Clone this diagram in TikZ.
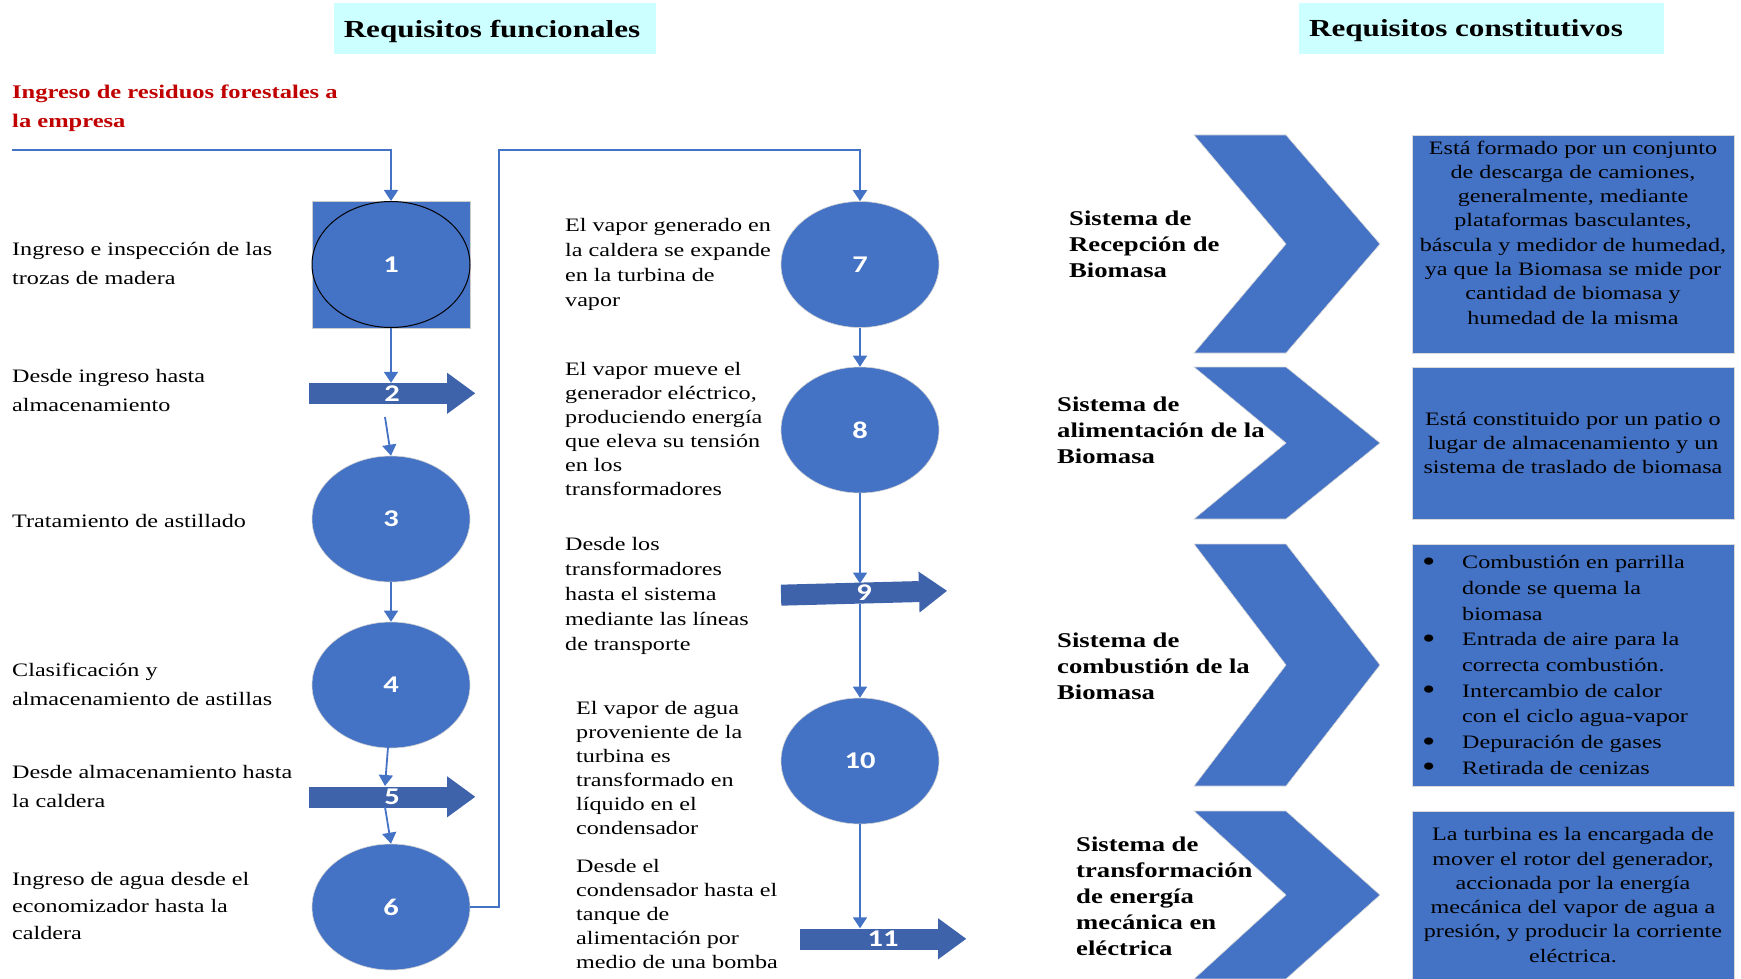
\documentclass[tikz,border=0pt]{standalone}
\usepackage{fontspec}
\setmainfont{Liberation Serif}[FakeStretch=1.27]
\newfontfamily\numfont{Carlito}[FakeStretch=1.27]
\usetikzlibrary{arrows.meta,shapes.geometric}
\definecolor{ofblue}{HTML}{4472C4}
\definecolor{arrblue}{HTML}{3F63AA}
\definecolor{hdrcyan}{HTML}{CCFFFF}
\definecolor{redtxt}{HTML}{C00000}
\newcommand\bigbul{\makebox[38pt][l]{\hspace*{-2pt}\smash{\fontsize{30}{20}\selectfont\raisebox{-2.5pt}{\textbullet}}}}
\begin{document}
\begin{tikzpicture}[x=1pt,y=-1pt,
  circ/.style={ellipse, fill=ofblue, draw=gray!35, line width=0.6pt, minimum width=158pt, minimum height=126pt, inner sep=0pt, text=white, font=\numfont\bfseries\fontsize{24}{24}\selectfont},
  arrbody/.style={rectangle, fill=arrblue, inner sep=0pt, minimum width=138pt, minimum height=21pt},
  arrhead/.style={fill=arrblue},
  arrnum/.style={inner sep=0pt, text=white, font=\numfont\bfseries\fontsize{24}{24}\selectfont},
  conn/.style={draw=ofblue, line width=1.8pt, -{Triangle[width=14pt,length=11pt]}},
  lt/.style={anchor=west, align=left, inner sep=0pt, font=\fontsize{19}{29}\selectfont},
  mt/.style={anchor=west, align=left, inner sep=0pt, font=\fontsize{19}{24}\selectfont},
  hdr/.style={fill=hdrcyan, minimum width=322pt, minimum height=51pt, inner sep=0pt},
  hdrtxt/.style={inner sep=0pt, font=\bfseries\fontsize{24.5}{24.5}\selectfont},
  lab/.style={anchor=west, align=left, inner sep=0pt, font=\bfseries\fontsize{21}{26}\selectfont},
  chev/.style={fill=ofblue, draw=gray!30, line width=0.6pt},
  infobox/.style={rectangle, fill=ofblue, draw=gray!30, line width=0.8pt, minimum width=322pt, inner sep=0pt},
  boxtxt/.style={align=center, inner sep=0pt, font=\fontsize{19}{24.3}\selectfont},
]
\useasboundingbox (0,0) rectangle (1741,979);

% headers
\node[hdr] (h1) at (495,28.5) {};
\node[hdrtxt] (h1t) at (492,31) {Requisitos funcionales};
\node[hdr, minimum width=365pt] (h2) at (1481.5,28.5) {};
\node[hdrtxt] (h2t) at (1466,31) {Requisitos constitutivos};

% red title
\node[lt, text=redtxt, font=\bfseries\fontsize{19.3}{29}\selectfont] (title) at (12,108.5) {Ingreso de residuos forestales a\\la empresa};

% left column nodes
\node[rectangle, fill=ofblue, draw=gray!40, line width=0.8pt, minimum width=158pt, minimum height=127pt, inner sep=0pt] (sq1) at (391,264.5) {};
\node[circ, draw=black, line width=1pt] (c1) at (391,264.5) {1};
\node[arrbody] (a2) at (378,393.5) {};
\fill[arrhead] (a2.north east) ++(0,-10) -- ++(28,20.5) -- ++(-28,20.5) -- cycle;
\node[arrnum] at (392,393.5) {2};
\node[circ] (c3) at (391,519) {3};
\node[circ] (c4) at (391,685) {4};
\node[arrbody] (a5) at (378,797) {};
\fill[arrhead] (a5.north east) ++(0,-10) -- ++(28,20.5) -- ++(-28,20.5) -- cycle;
\node[arrnum] at (392,797) {5};
\node[circ] (c6) at (391,907) {6};

% middle column nodes
\node[circ] (c7) at (860,264.5) {7};
\node[circ] (c8) at (860,430) {8};
\begin{scope}[rotate around={1.5:(864,593)}]
\node[arrbody, rotate=1.5] (a9) at (850,593) {};
\fill[arrhead] (919,573) -- (947,593) -- (919,614) -- cycle;
\end{scope}
\node[arrnum] at (864,593) {9};
\node[circ] (c10) at (860,761) {10};
\node[arrbody] (a11) at (869,939) {};
\fill[arrhead] (a11.north east) ++(0,-10) -- ++(28,20.5) -- ++(-28,20.5) -- cycle;
\node[arrnum] at (883,939) {11};

% connectors
\coordinate (start) at (12,150);
\draw[conn] (start) -- (start -| c1) -- (c1.north);
\draw[conn] (c1.south) -- (c1.south |- a2.north);
\coordinate (a2out) at (385,417);
\draw[conn] (a2out) -- (c3.north);
\draw[conn] (c3.south) -- (c4.north);
\coordinate (c4out) at (388,747);
\coordinate (a5in) at (385,786);
\draw[conn] (c4out) -- (a5in);
\coordinate (a5out) at (385,807);
\draw[conn] (a5out) -- (c6.north);
\coordinate (bend) at (499,150);
\draw[conn] (c6.east) -- (c6.east -| bend) -- (bend) -- (bend -| c7) -- (c7.north);
\draw[conn] (c7.south) -- (c8.north);
\coordinate (a9in) at (860,583.5);
\draw[conn] (c8.south) -- (a9in);
\coordinate (a9out) at (860,604);
\draw[conn] (a9out) -- (c10.north);
\draw[conn] (c10.south) -- (c10.south |- a11.north);

% left texts
\node[lt] (t1) at (12,263.5) {Ingreso e inspección de las\\trozas de madera};
\node[lt] (t2) at (12,390.5) {Desde ingreso hasta\\almacenamiento};
\node[lt] (t3) at (12,521) {Tratamiento de astillado};
\node[lt] (t4) at (12,684) {Clasificación y\\almacenamiento de astillas};
\node[lt] (t5) at (12,786) {Desde almacenamiento hasta\\la caldera};
\node[lt, font=\fontsize{19}{27}\selectfont] (t6) at (12,906) {Ingreso de agua desde el\\economizador hasta la\\caldera};

% middle texts
\node[mt, font=\fontsize{19}{25}\selectfont] (m1) at (565,264) {El vapor generado en\\la caldera se expande\\en la turbina de\\vapor};
\node[mt] (m2) at (565,429) {El vapor mueve el\\generador eléctrico,\\produciendo energía\\que eleva su tensión\\en los\\transformadores};
\node[mt, font=\fontsize{19}{25}\selectfont] (m3) at (565,596) {Desde los\\transformadores\\hasta el sistema\\mediante las líneas\\de transporte};
\node[mt] (m4) at (576,768) {El vapor de agua\\proveniente de la\\turbina es\\transformado en\\líquido en el\\condensador};
\node[mt] (m5) at (576,914) {Desde el\\condensador hasta el\\tanque de\\alimentación por\\medio de una bomba};

% right side: chevrons
\foreach \t/\b in {135/353, 367/519, 544/786, 811/979} {
  \path[chev] (1194,\t) -- (1286,\t) -- (1380,{(\t+\b)/2}) -- (1286,\b) -- (1194,\b) -- (1286,{(\t+\b)/2}) -- cycle;
}
\node[lab] (l1) at (1069,244) {Sistema de\\Recepción de\\Biomasa};
\node[lab] (l2) at (1057,430) {Sistema de\\alimentación de la\\Biomasa};
\node[lab] (l3) at (1057,666) {Sistema de\\combustión de la\\Biomasa};
\node[lab] (l4) at (1076,896) {Sistema de\\transformación\\de energía\\mecánica en\\eléctrica};

% right side: boxes
\node[infobox, minimum height=218pt] (b1) at (1573,244) {};
\node[boxtxt] (bt1) at (1573,232.5) {Está formado por un conjunto\\de descarga de camiones,\\generalmente, mediante\\plataformas basculantes,\\báscula y medidor de humedad,\\ya que la Biomasa se mide por\\cantidad de biomasa y\\humedad de la misma};
\node[infobox, minimum height=152pt] (b2) at (1573,443) {};
\node[boxtxt] (bt2) at (1573,443) {Está constituido por un patio o\\lugar de almacenamiento y un\\sistema de traslado de biomasa};
\node[infobox, minimum height=242pt] (b3) at (1573,665) {};
\node[boxtxt, align=left, anchor=west, font=\fontsize{19}{25.7}\selectfont] (bt3) at (1424,665) {%
\bigbul Combustión en parrilla\\
\hspace*{38pt}donde se quema la\\
\hspace*{38pt}biomasa\\
\bigbul Entrada de aire para la\\
\hspace*{38pt}correcta combustión.\\
\bigbul Intercambio de calor\\
\hspace*{38pt}con el ciclo agua-vapor\\
\bigbul Depuración de gases\\
\bigbul Retirada de cenizas};
\node[infobox, minimum height=168pt] (b4) at (1573,895) {};
\node[boxtxt] (bt4) at (1573,895) {La turbina es la encargada de\\mover el rotor del generador,\\accionada por la energía\\mecánica del vapor de agua a\\presión, y producir la corriente\\eléctrica.};
\end{tikzpicture}
\end{document}
